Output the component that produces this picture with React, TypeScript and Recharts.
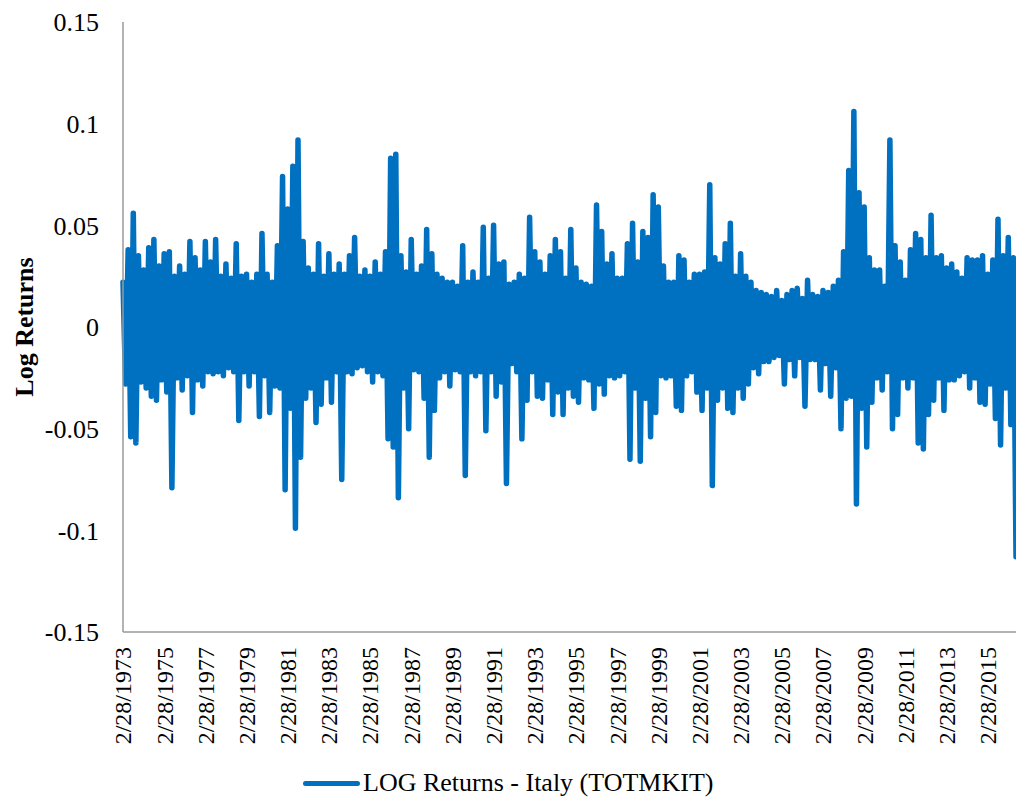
import { LineChart, Line, XAxis, YAxis, Label } from "recharts";

// Quarterly extremes of the daily log returns (high / low)
const highs1973to1982 = [
  0.022, 0.038, 0.056, 0.035, 0.028, 0.039, 0.043, 0.03, 0.036, 0.037,
  0.025, 0.03, 0.026, 0.042, 0.034, 0.028, 0.042, 0.032, 0.043, 0.025,
  0.031, 0.024, 0.041, 0.025, 0.026, 0.022, 0.026, 0.046, 0.026, 0.022,
  0.04, 0.074, 0.058, 0.079, 0.092, 0.042, 0.029, 0.026, 0.041, 0.025,
];
const lows1973to1982 = [
  -0.028, -0.054, -0.057, -0.027, -0.03, -0.034, -0.036, -0.026, -0.032, -0.079,
  -0.025, -0.031, -0.024, -0.042, -0.026, -0.029, -0.022, -0.023, -0.022, -0.024,
  -0.02, -0.022, -0.046, -0.022, -0.029, -0.022, -0.044, -0.024, -0.042, -0.029,
  -0.03, -0.08, -0.04, -0.099, -0.064, -0.035, -0.03, -0.047, -0.038, -0.025,
];
const highs1983to1992 = [
  0.036, 0.026, 0.031, 0.026, 0.035, 0.044, 0.025, 0.028, 0.025, 0.032,
  0.026, 0.037, 0.083, 0.085, 0.035, 0.027, 0.043, 0.026, 0.03, 0.048,
  0.036, 0.026, 0.024, 0.022, 0.022, 0.02, 0.04, 0.022, 0.027, 0.022,
  0.049, 0.024, 0.05, 0.031, 0.032, 0.021, 0.022, 0.026, 0.024, 0.054,
];
const lows1983to1992 = [
  -0.037, -0.022, -0.075, -0.022, -0.023, -0.02, -0.019, -0.022, -0.027, -0.022,
  -0.024, -0.055, -0.059, -0.084, -0.03, -0.05, -0.021, -0.022, -0.035, -0.064,
  -0.041, -0.025, -0.022, -0.029, -0.021, -0.022, -0.073, -0.022, -0.024, -0.022,
  -0.051, -0.022, -0.034, -0.027, -0.077, -0.018, -0.022, -0.055, -0.036, -0.022,
];
const highs1993to2002 = [
  0.037, 0.032, 0.026, 0.035, 0.043, 0.037, 0.024, 0.048, 0.029, 0.022,
  0.021, 0.02, 0.06, 0.047, 0.031, 0.036, 0.024, 0.024, 0.041, 0.051,
  0.032, 0.047, 0.044, 0.065, 0.059, 0.03, 0.022, 0.022, 0.035, 0.033,
  0.022, 0.026, 0.026, 0.027, 0.07, 0.034, 0.031, 0.041, 0.051, 0.025,
];
const lows1993to2002 = [
  -0.034, -0.035, -0.026, -0.043, -0.032, -0.043, -0.03, -0.034, -0.037, -0.025,
  -0.026, -0.04, -0.028, -0.033, -0.024, -0.025, -0.024, -0.022, -0.065, -0.03,
  -0.066, -0.035, -0.054, -0.042, -0.024, -0.025, -0.024, -0.039, -0.041, -0.024,
  -0.022, -0.032, -0.041, -0.03, -0.078, -0.036, -0.03, -0.04, -0.042, -0.03,
];
const highs2003to2012 = [
  0.036, 0.025, 0.022, 0.018, 0.017, 0.016, 0.015, 0.018, 0.013, 0.016,
  0.018, 0.019, 0.014, 0.023, 0.016, 0.015, 0.018, 0.017, 0.02, 0.023,
  0.037, 0.077, 0.106, 0.066, 0.059, 0.034, 0.028, 0.028, 0.02, 0.092,
  0.04, 0.032, 0.023, 0.038, 0.046, 0.043, 0.034, 0.055, 0.034, 0.035,
];
const lows2003to2012 = [
  -0.035, -0.028, -0.02, -0.023, -0.017, -0.017, -0.015, -0.014, -0.028, -0.016,
  -0.024, -0.015, -0.039, -0.016, -0.016, -0.031, -0.018, -0.034, -0.02, -0.05,
  -0.035, -0.034, -0.087, -0.04, -0.059, -0.037, -0.025, -0.031, -0.022, -0.05,
  -0.043, -0.025, -0.03, -0.025, -0.057, -0.06, -0.043, -0.036, -0.025, -0.041,
];
const highs2013to2016 = [0.029, 0.031, 0.027, 0.024, 0.034, 0.033, 0.033, 0.035, 0.026, 0.033, 0.053, 0.035, 0.044, 0.034];
const lows2013to2016 = [-0.026, -0.026, -0.024, -0.022, -0.03, -0.025, -0.037, -0.038, -0.028, -0.045, -0.058, -0.03, -0.048, -0.113];

const tickYears = [1973, 1975, 1977, 1979, 1981, 1983, 1985, 1987, 1989, 1991, 1993, 1995, 1997, 1999, 2001, 2003, 2005, 2007, 2009, 2011, 2013, 2015];
const yTicks = [-0.15, -0.1, -0.05, 0, 0.05, 0.1, 0.15];

const START = 1973.16; // 28 Feb 1973
const highs = [...highs1973to1982, ...highs1983to1992, ...highs1993to2002, ...highs2003to2012, ...highs2013to2016];
const lows = [...lows1973to1982, ...lows1983to1992, ...lows1993to2002, ...lows2003to2012, ...lows2013to2016];

const data = highs.flatMap((h, i) => [
  { t: START + i * 0.25, ret: h },
  { t: START + i * 0.25 + 0.125, ret: lows[i] },
]);
const END = data[data.length - 1].t;

const FONT = '"Liberation Serif", "Times New Roman", serif';
const BLUE = "#0070C0";

const DateTick = ({ x, y, payload }: any) => (
  <text
    x={x}
    y={y}
    transform={`rotate(-90, ${x}, ${y})`}
    textAnchor="end"
    dy="0.35em"
    fontFamily={FONT}
    fontSize={24}
    fill="#000"
  >
    {`2/28/${Math.round(payload.value)}`}
  </text>
);

export default function App() {
  return (
    <div style={{ position: "absolute", left: 0, top: 0, width: 1016, height: 802, background: "#fff" }}>
      <LineChart width={1016} height={802} data={data} margin={{ top: 22, right: 0, bottom: 0, left: 0 }}>
        <XAxis
          dataKey="t"
          type="number"
          domain={[START, END]}
          ticks={tickYears.map((y) => y + 0.16)}
          tick={<DateTick />}
          tickLine={false}
          tickSize={0}
          tickMargin={15}
          height={170}
          interval={0}
          stroke="#999"
          strokeWidth={1.5}
        />
        <YAxis
          type="number"
          domain={[-0.15, 0.15]}
          ticks={yTicks}
          width={123}
          tickLine={false}
          tickSize={0}
          tickMargin={24}
          stroke="#999"
          strokeWidth={1.5}
          tick={{ fill: "#000", fontSize: 26, fontFamily: FONT }}
          interval={0}
        >
          <Label
            content={({ viewBox }: any) => {
              const cx = viewBox.x + 24;
              const cy = viewBox.y + viewBox.height / 2;
              return (
                <text
                  x={cx}
                  y={cy}
                  transform={`rotate(-90, ${cx}, ${cy})`}
                  textAnchor="middle"
                  dy="0.35em"
                  fontFamily={FONT}
                  fontWeight="bold"
                  fontSize={26}
                  fill="#000"
                >
                  Log Returns
                </text>
              );
            }}
          />
        </YAxis>
        <Line
          dataKey="ret"
          stroke={BLUE}
          strokeWidth={5.5}
          strokeLinejoin="round"
          strokeLinecap="round"
          dot={false}
          isAnimationActive={false}
          name="LOG Returns - Italy (TOTMKIT)"
        />
      </LineChart>
      <div
        style={{
          position: "absolute",
          left: 303,
          top: 768,
          display: "flex",
          alignItems: "center",
          fontFamily: FONT,
          fontSize: 26,
          lineHeight: "30px",
          color: "#000",
          whiteSpace: "nowrap",
        }}
      >
        <span style={{ display: "inline-block", width: 57, height: 5, borderRadius: 3, background: BLUE, marginRight: 3 }} />
        LOG Returns - Italy (TOTMKIT)
      </div>
    </div>
  );
}
